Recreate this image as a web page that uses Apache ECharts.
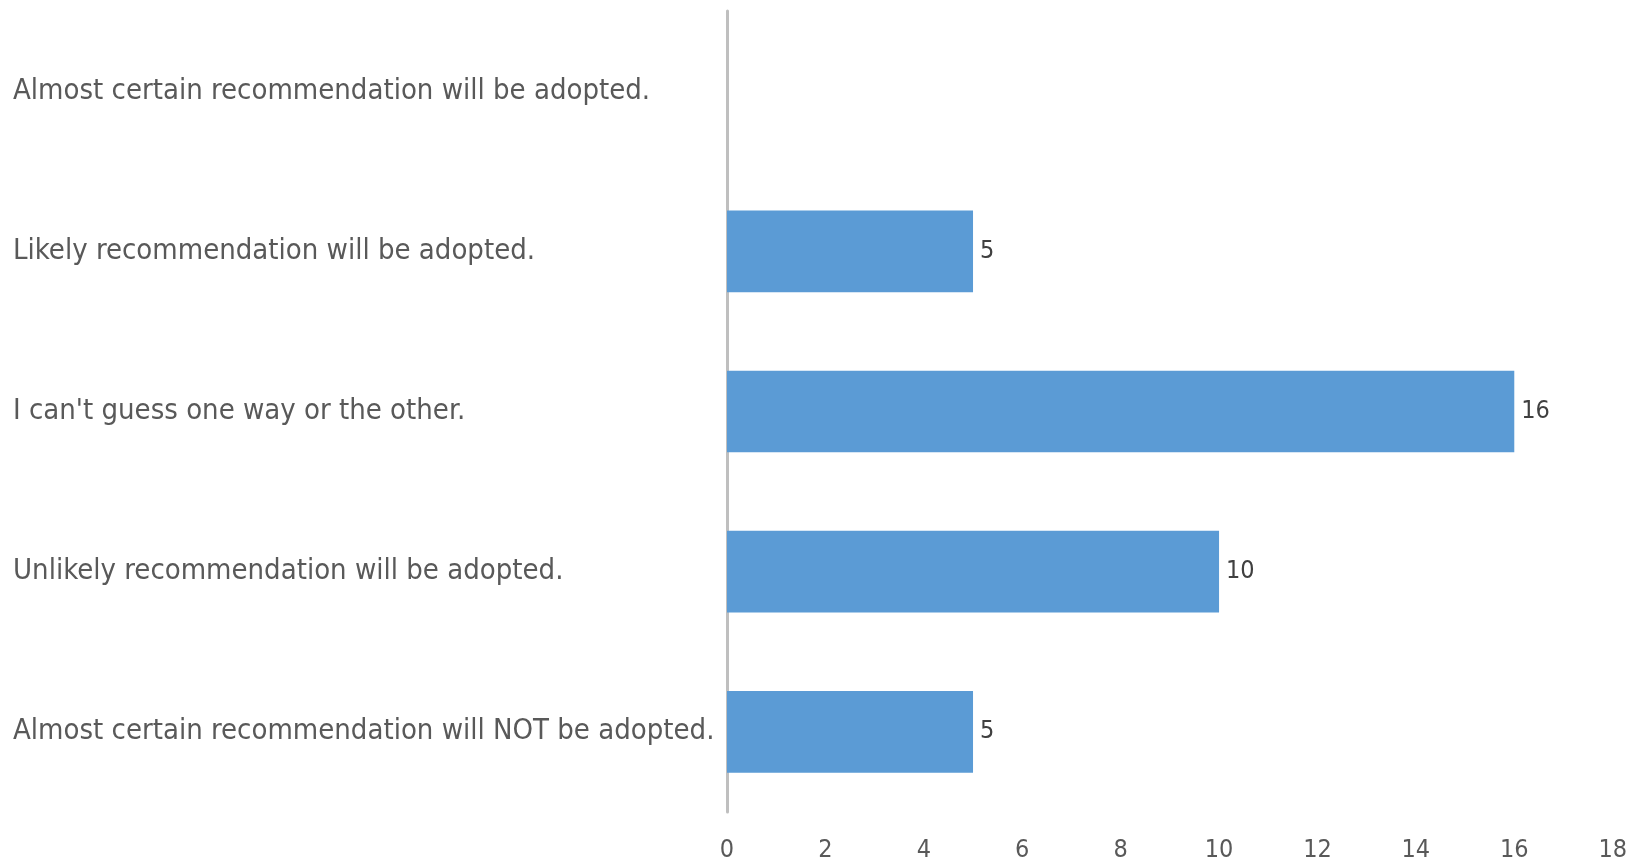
<!DOCTYPE html>
<html>
<head>
<meta charset="utf-8">
<script src="https://cdn.jsdelivr.net/npm/echarts@6/dist/echarts.min.js"></script>
<style>
  html, body { margin: 0; padding: 0; background: #ffffff; }
  #chart { width: 1630px; height: 865px; }
</style>
</head>
<body>
<div id="chart"></div>
<script>
// Survey answers, listed top to bottom
const categories = [
  'Almost certain recommendation will be adopted.',
  'Likely recommendation will be adopted.',
  "I can't guess one way or the other.",
  'Unlikely recommendation will be adopted.',
  'Almost certain recommendation will NOT be adopted.'
];
const responses = [0, 5, 16, 10, 5];
const xTicks = { min: 0, max: 18, step: 2 };

const font = '"Liberation Sans Narrow", "DejaVu Sans Condensed", "Liberation Sans", sans-serif';
const textColor = '#595959';

const chart = echarts.init(document.getElementById('chart'), null, { renderer: 'canvas' });
chart.setOption({
  backgroundColor: '#ffffff',
  animation: false,
  grid: { left: 727, right: 14, top: 11, bottom: 53, containLabel: false },
  xAxis: {
    type: 'value',
    min: xTicks.min,
    max: xTicks.max,
    interval: xTicks.step,
    axisLine: { show: false },
    axisTick: { show: false },
    splitLine: { show: false },
    axisLabel: { color: textColor, fontFamily: font, fontSize: 25, margin: 26 }
  },
  yAxis: {
    type: 'category',
    data: categories,
    inverse: true,
    axisTick: { show: false },
    axisLine: { show: true, lineStyle: { color: '#bfbfbf', width: 3 } },
    axisLabel: {
      color: textColor, fontFamily: font, fontSize: 29,
      align: 'left', margin: 714
    }
  },
  series: [{
    type: 'bar',
    data: responses.map(v => (v === 0 ? null : v)),
    barWidth: '51%',
    itemStyle: { color: '#5b9bd5' },
    label: {
      show: true, position: 'right', distance: 7,
      color: '#404040', fontFamily: font, fontSize: 25
    }
  }]
});
</script>
</body>
</html>
